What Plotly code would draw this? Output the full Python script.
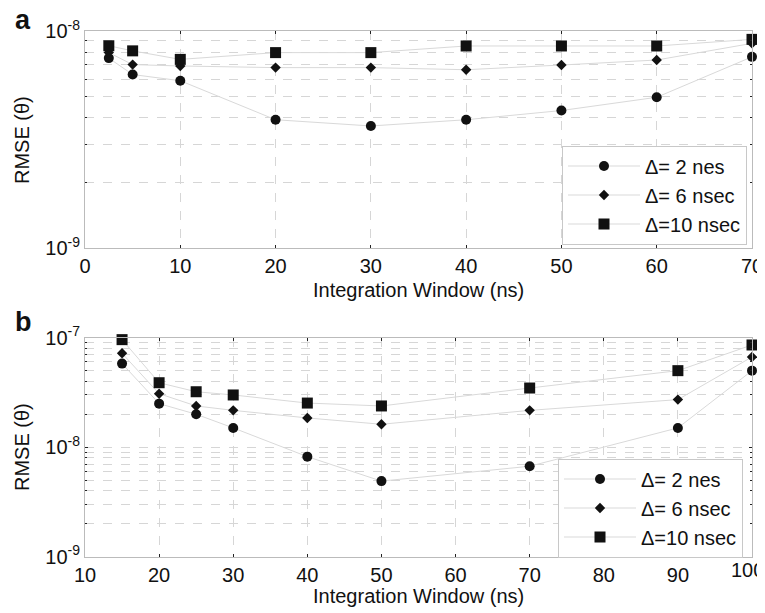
import plotly.graph_objects as go

# Panel a data
xa = [2.5, 5, 10, 20, 30, 40, 50, 60, 70]
a_d2 = [7.5e-9, 6.3e-9, 5.9e-9, 3.9e-9, 3.65e-9, 3.9e-9, 4.3e-9, 4.95e-9, 7.6e-9]
a_d6 = [7.95e-9, 7.0e-9, 6.9e-9, 6.78e-9, 6.78e-9, 6.63e-9, 6.97e-9, 7.35e-9, 8.77e-9]
a_d10 = [8.55e-9, 8.1e-9, 7.4e-9, 7.95e-9, 7.95e-9, 8.53e-9, 8.53e-9, 8.53e-9, 9.15e-9]

# Panel b data
xb = [15, 20, 25, 30, 40, 50, 70, 90, 100]
b_d2 = [5.8e-8, 2.5e-8, 2.0e-8, 1.5e-8, 8.2e-9, 4.9e-9, 6.7e-9, 1.5e-8, 5.0e-8]
b_d6 = [7.2e-8, 3.08e-8, 2.38e-8, 2.17e-8, 1.85e-8, 1.62e-8, 2.17e-8, 2.72e-8, 6.67e-8]
b_d10 = [9.6e-8, 3.88e-8, 3.21e-8, 3.0e-8, 2.53e-8, 2.38e-8, 3.47e-8, 5.0e-8, 8.58e-8]

names = ["\u0394= 2 nes", "\u0394= 6 nsec", "\u0394=10 nsec"]
symbols = ["circle", "diamond", "square"]
sizes = [10, 8, 11]

xticks_a = [0, 10, 20, 30, 40, 50, 60, 70]
xticks_b = [10, 20, 30, 40, 50, 60, 70, 80, 90, 100]
yticks_a = [1e-9, 1e-8]
yticks_a_text = ["10<sup>-9</sup>", "10<sup>-8</sup>"]
yticks_b = [1e-9, 1e-8, 1e-7]
yticks_b_text = ["10<sup>-9</sup>", "10<sup>-8</sup>", "10<sup>-7</sup>"]

FONT = "Liberation Sans, Arial, sans-serif"
MK = "#111111"
LN = "#d9d9d9"

# page body has an 8px default margin; figure is laid out in figure coords
OFF = 8
W = 757.0
H = 605.0
ML, MR = 77, 13
PW = W - ML - MR


def px(sx):
    return (sx - OFF - ML) / PW


def py(sy):
    return 1 - (sy - OFF) / H


fig = go.Figure()

for ys, nm, sym, sz in zip([a_d2, a_d6, a_d10], names, symbols, sizes):
    fig.add_trace(go.Scatter(
        x=xa, y=ys, name=nm, mode="lines+markers",
        line=dict(color=LN, width=1),
        marker=dict(symbol=sym, size=sz, color=MK),
        cliponaxis=False, xaxis="x", yaxis="y", legend="legend"))

for ys, nm, sym, sz in zip([b_d2, b_d6, b_d10], names, symbols, sizes):
    fig.add_trace(go.Scatter(
        x=xb, y=ys, name=nm, mode="lines+markers",
        line=dict(color=LN, width=1),
        marker=dict(symbol=sym, size=sz, color=MK),
        cliponaxis=False, xaxis="x2", yaxis="y2", legend="legend2"))

dom_a = [py(248), py(31)]
dom_b = [py(556.7), py(337.7)]

common_x = dict(
    showline=True, linecolor="#bbbbbb", linewidth=1, mirror="ticks",
    ticks="inside", ticklen=3, tickcolor="#222222", automargin=False,
    showgrid=True, gridcolor="#d6d6d6", griddash="dash", gridwidth=1,
    zeroline=False, tickfont=dict(family=FONT, size=20, color="#111"),
)
common_y = dict(
    type="log", showline=True, linecolor="#bbbbbb", linewidth=1, mirror="ticks",
    ticks="inside", ticklen=3, tickcolor="#222222", automargin=False,
    showgrid=True, gridcolor="#d6d6d6", griddash="dash",
    zeroline=False, tickfont=dict(family=FONT, size=20, color="#111"),
    minor=dict(ticks="inside", ticklen=2, tickcolor="#222222", showgrid=True,
               gridcolor="#d6d6d6", griddash="dash", dtick="D1"),
)

leg_common = dict(bgcolor="white", bordercolor="#c8c8c8", borderwidth=1,
                  font=dict(family=FONT, size=20, color="#111"), itemwidth=72,
                  tracegroupgap=0, xanchor="right", yanchor="middle")

fig.update_layout(
    width=W, height=H,
    margin=dict(l=ML, r=MR, t=0, b=0, pad=0),
    paper_bgcolor="white", plot_bgcolor="white",
    font=dict(family=FONT, color="#111"),
    xaxis=dict(domain=[0, 1], anchor="y", range=[0, 70], tickvals=xticks_a, **common_x),
    yaxis=dict(domain=dom_a, anchor="x", range=[-9, -8], tickvals=yticks_a,
               ticktext=yticks_a_text, **common_y),
    xaxis2=dict(domain=[0, 1], anchor="y2", range=[10, 100], tickvals=xticks_b, **common_x),
    yaxis2=dict(domain=dom_b, anchor="x2", range=[-9, -7], tickvals=yticks_b,
                ticktext=yticks_b_text, **common_y),
    legend=dict(x=px(747), y=py(195), **leg_common),
    legend2=dict(x=px(743), y=py(508), **leg_common),
    showlegend=True,
)

ann_font = dict(family=FONT, size=20, color="#111")
# last x tick label of panel b (plotly drops it at the figure edge)
fig.add_annotation(text=str(xticks_b[-1]), xref="paper", yref="paper", x=px(765),
                   y=py(558), yanchor="top", xanchor="right", showarrow=False,
                   font=ann_font, borderpad=0)
for cy in (140, 447):
    fig.add_annotation(text="RMSE (\u03b8)", xref="paper", yref="paper", x=px(22),
                       y=py(cy), textangle=-90, showarrow=False, font=ann_font,
                       xanchor="center", yanchor="middle")
for cy in (290, 596):
    fig.add_annotation(text="Integration Window (ns)", xref="paper", yref="paper",
                       x=px(418), y=py(cy), showarrow=False, font=ann_font,
                       xanchor="center", yanchor="middle")
for lbl, cy in (("a", 20), ("b", 322)):
    fig.add_annotation(text="<b>" + lbl + "</b>", xref="paper", yref="paper", x=px(23),
                       y=py(cy), showarrow=False,
                       font=dict(family=FONT, size=27, color="#111"),
                       xanchor="center", yanchor="middle", borderpad=0)

fig.write_html("out.html")
